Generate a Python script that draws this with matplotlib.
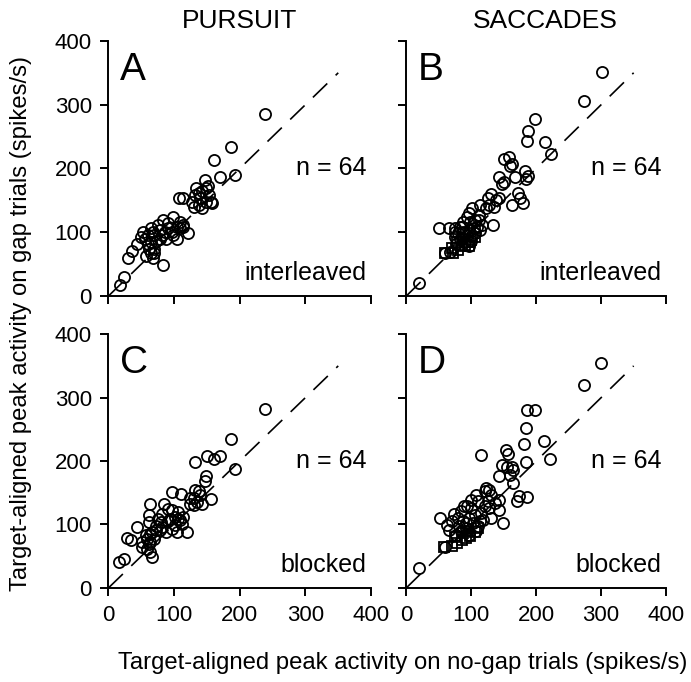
import matplotlib.pyplot as plt
import numpy as np

plt.rcParams['font.family'] = ['Liberation Sans', 'DejaVu Sans']

# Panel A: pursuit, interleaved (no-gap, gap)
a_x = [239, 187, 161, 193, 170, 147, 134, 152, 107, 114, 132, 140, 127, 138, 148, 156,
       143, 157, 130, 98, 83, 91, 104, 114, 121, 109, 96, 104, 75, 65, 52, 60,
       70, 78, 55, 65, 73, 44, 36, 29, 62, 70, 57, 68, 83, 23, 18, 68,
       86, 114, 143, 138, 153, 148, 60, 78, 49, 91, 81, 70, 65, 109, 99, 88]
a_y = [285, 234, 214, 190, 187, 182, 169, 172, 153, 153, 159, 154, 148, 143, 148, 148,
       138, 146, 140, 124, 119, 114, 108, 111, 99, 106, 100, 90, 111, 106, 100, 95,
       95, 103, 90, 84, 87, 82, 71, 60, 74, 68, 63, 59, 48, 30, 18, 100,
       100, 108, 164, 162, 159, 170, 82, 90, 92, 106, 95, 74, 68, 116, 95, 90]

# Panel B: saccades, interleaved
b_x = [301, 273, 198, 188, 186, 213, 223, 151, 158, 162, 159, 183, 188, 185, 167, 142,
       151, 148, 172, 175, 163, 180, 130, 125, 138, 143, 128, 135, 114, 101, 97, 93,
       112, 106, 133, 117, 51, 65, 75, 85, 80, 88, 96, 104, 109, 75, 82, 93,
       101, 91, 99, 59, 67, 19, 112, 122, 88, 77, 106, 114, 82, 75, 98, 96]
b_y = [352, 306, 277, 258, 243, 241, 223, 215, 218, 207, 204, 196, 188, 183, 187, 186,
       178, 175, 162, 153, 142, 146, 160, 153, 151, 154, 143, 140, 143, 138, 130, 124,
       127, 119, 112, 111, 106, 106, 106, 108, 98, 100, 103, 106, 108, 92, 90, 95,
       95, 84, 87, 68, 69, 21, 119, 138, 116, 82, 98, 103, 108, 100, 116, 79]
b_sq_x = [60, 72, 80, 85, 90, 95, 100, 78, 88, 70, 97, 105]
b_sq_y = [67, 68, 72, 78, 80, 85, 88, 85, 90, 75, 78, 92]

# Panel C: pursuit, blocked
c_x = [239, 187, 150, 161, 170, 132, 193, 148, 147, 96, 111, 132, 138, 130, 124, 143,
       131, 156, 140, 64, 85, 91, 96, 106, 114, 101, 82, 75, 62, 62, 72, 80,
       91, 96, 104, 119, 112, 106, 43, 28, 35, 51, 59, 67, 57, 64, 51, 59,
       64, 67, 16, 24, 72, 82, 88, 64, 109, 135, 124, 70, 62, 78, 93, 101]
c_y = [282, 235, 208, 203, 208, 199, 188, 176, 168, 151, 148, 155, 152, 141, 141, 132,
       131, 140, 147, 132, 133, 125, 123, 120, 112, 112, 117, 109, 115, 104, 97, 104,
       105, 93, 88, 88, 101, 109, 96, 78, 76, 72, 77, 88, 83, 72, 64, 61,
       56, 49, 41, 45, 91, 96, 88, 85, 107, 136, 133, 77, 69, 91, 109, 99]

# Panel D: saccades, blocked
d_x = [300, 273, 186, 198, 185, 181, 212, 221, 184, 115, 154, 157, 147, 155, 163, 165,
       160, 142, 165, 173, 186, 170, 123, 128, 121, 131, 142, 136, 128, 142, 131, 149,
       107, 100, 110, 89, 73, 52, 63, 66, 79, 87, 97, 105, 115, 102, 110, 92,
       84, 76, 97, 107, 60, 20, 94, 121, 84, 71, 118, 100, 92, 81, 126, 113]
d_y = [355, 320, 280, 280, 252, 227, 231, 203, 198, 210, 218, 211, 193, 190, 190, 186,
       178, 177, 166, 145, 143, 137, 158, 155, 153, 147, 139, 134, 126, 123, 110, 102,
       147, 139, 137, 129, 116, 110, 99, 91, 110, 105, 110, 115, 118, 102, 97, 94,
       89, 84, 84, 89, 65, 31, 129, 129, 121, 105, 107, 126, 102, 97, 137, 105]
d_sq_x = [58, 70, 78, 85, 92, 98, 105, 75, 88, 95, 110]
d_sq_y = [65, 66, 70, 75, 78, 82, 88, 80, 86, 90, 95]

fig = plt.figure(figsize=(6.91, 6.82), dpi=100)
rects = [[0.157, 0.566, 0.380, 0.374], [0.588, 0.566, 0.376, 0.374],
         [0.157, 0.138, 0.380, 0.372], [0.588, 0.138, 0.376, 0.372]]
panels = [("A", a_x, a_y, None, None, "interleaved"),
          ("B", b_x, b_y, b_sq_x, b_sq_y, "interleaved"),
          ("C", c_x, c_y, None, None, "blocked"),
          ("D", d_x, d_y, d_sq_x, d_sq_y, "blocked")]

for i, (letter, xs, ys, sx, sy, cond) in enumerate(panels):
    ax = fig.add_axes(rects[i])
    ax.plot([0, 350], [0, 350], color='black', lw=1.2, ls=(0, (12, 7)))
    if sx is not None:
        ax.plot(sx, sy, 's', ms=7, mfc='none', mec='black', mew=1.3)
    ax.plot(xs, ys, 'o', ms=8, mfc='none', mec='black', mew=1.3)
    ax.set_xlim(0, 400)
    ax.set_ylim(0, 400)
    ax.set_xticks([0, 100, 200, 300, 400])
    ax.set_yticks([0, 100, 200, 300, 400])
    for s in ['top', 'right']:
        ax.spines[s].set_visible(False)
    for s in ['left', 'bottom']:
        ax.spines[s].set_linewidth(1.4)
    ax.tick_params(direction='out', length=6, width=1.4, labelsize=16, pad=6)
    if i in (1, 3):
        ax.set_yticklabels([])
    if i in (0, 1):
        ax.set_xticklabels([])
    ax.text(17, 383, letter, fontsize=28, va='top', ha='left')
    ax.text(393, 200, "n = 64", fontsize=18, ha='right', va='center')
    ax.text(393, 25, cond, fontsize=18, ha='right', va='baseline')

fig.text(0.347, 0.969, "PURSUIT", fontsize=19, ha='center', va='center')
fig.text(0.789, 0.969, "SACCADES", fontsize=19, ha='center', va='center')
fig.text(0.583, 0.028, "Target-aligned peak activity on no-gap trials (spikes/s)",
         fontsize=17.2, ha='center', va='center')
fig.text(0.030, 0.526, "Target-aligned peak activity on gap trials (spikes/s)",
         fontsize=17.2, ha='center', va='center', rotation=90)

plt.savefig("out.png", dpi=100)
